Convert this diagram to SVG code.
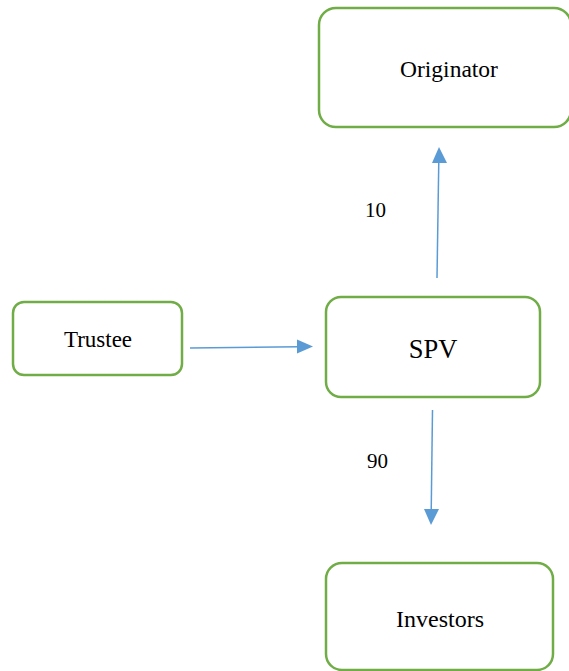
<svg xmlns="http://www.w3.org/2000/svg" width="569" height="671" viewBox="0 0 569 671">
<style>
.box{fill:#fff;stroke:#70AD47;stroke-width:2.5}
.lbl{fill:#000;text-anchor:middle;dominant-baseline:central}
.conn{stroke:#5B9BD5;stroke-width:1.5;fill:none}
.head{fill:#5B9BD5}
</style>
<rect width="569" height="671" fill="#fff"/>
<g id="originator">
<rect class="box" x="319" y="8" width="252" height="119" rx="17"/>
<text class="lbl" font-family="Liberation Serif, DejaVu Serif, serif" x="449" y="69" font-size="23.5">Originator</text>
</g>
<g id="trustee">
<rect class="box" x="13" y="302" width="169" height="73" rx="11"/>
<text class="lbl" font-family="Liberation Serif, DejaVu Serif, serif" x="98" y="339" font-size="23">Trustee</text>
</g>
<g id="spv">
<rect class="box" x="326" y="297" width="214" height="100" rx="15"/>
<text class="lbl" font-family="Liberation Serif, DejaVu Serif, serif" x="433" y="349" font-size="26.5">SPV</text>
</g>
<g id="investors">
<rect class="box" x="326" y="563" width="227" height="107" rx="16"/>
<text class="lbl" font-family="Liberation Serif, DejaVu Serif, serif" x="440" y="619" font-size="24">Investors</text>
</g>
<g id="connectors">
<line class="conn" x1="190" y1="348" x2="299" y2="346.7"/>
<path class="head" d="M313,346.5 L297,339.5 L297,353.5 z"/>
<line class="conn" x1="437" y1="278" x2="438.8" y2="160"/>
<path class="head" d="M439,147 L432,163 L447,163 z"/>
<line class="conn" x1="432.5" y1="410" x2="431.2" y2="512"/>
<path class="head" d="M431,525 L424,509 L439,509 z"/>
<text class="lbl" font-family="Liberation Serif, DejaVu Serif, serif" x="375.5" y="210" font-size="21">10</text>
<text class="lbl" font-family="Liberation Serif, DejaVu Serif, serif" x="377.5" y="461" font-size="21">90</text>
</g>
</svg>
